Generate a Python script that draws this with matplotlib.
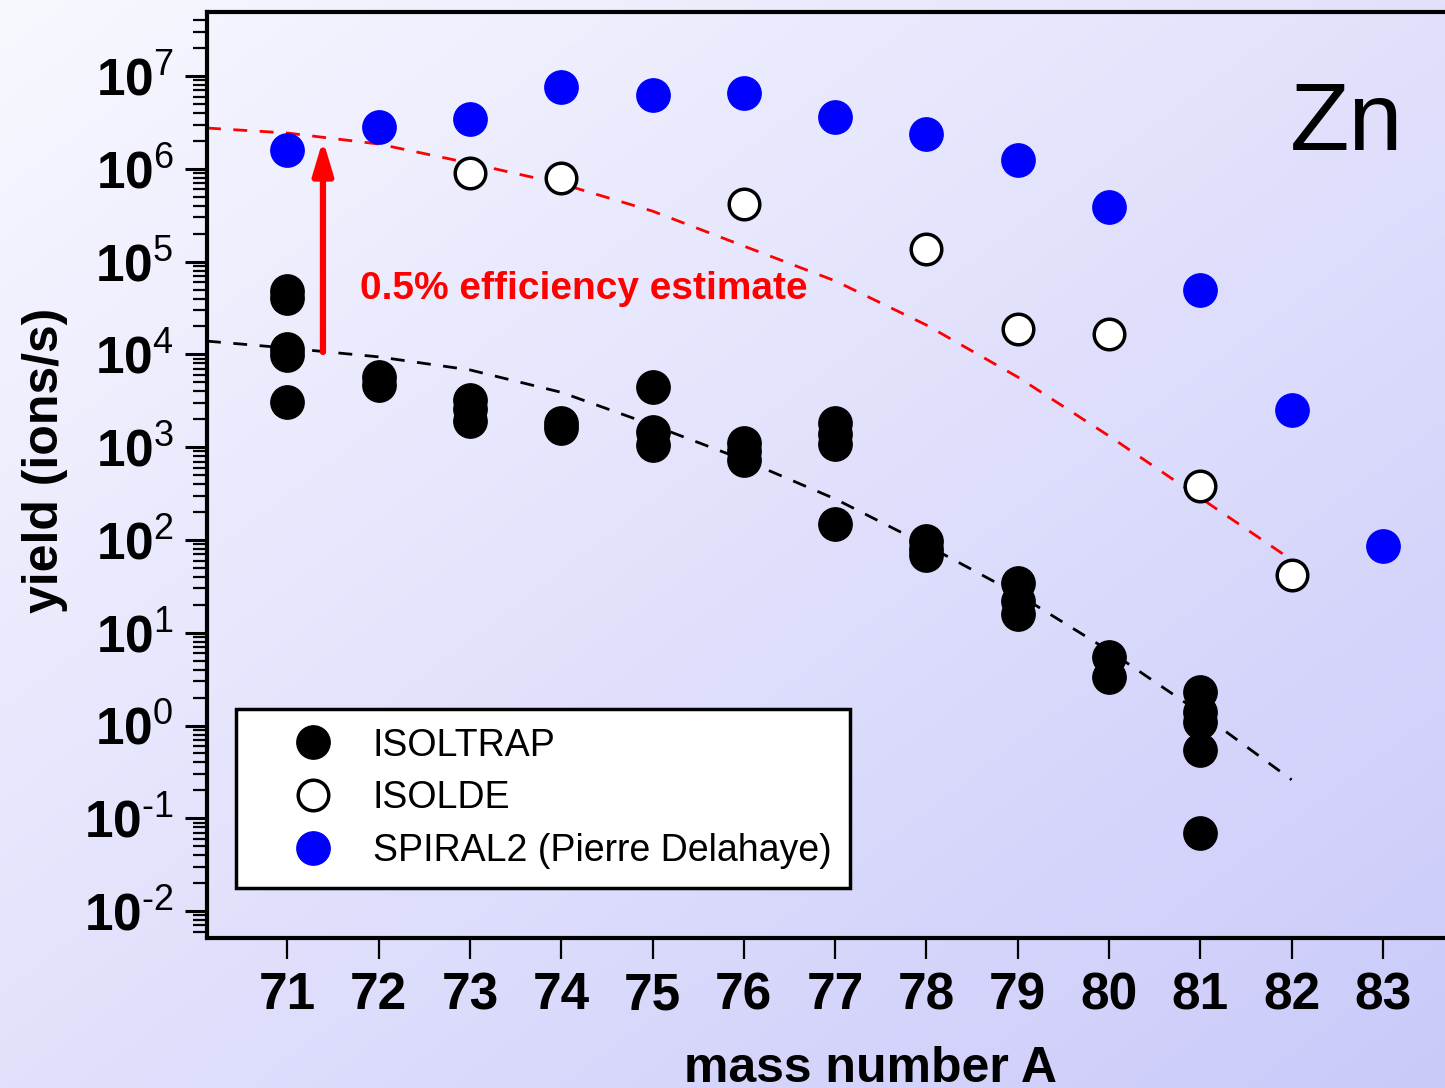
import numpy as np
import matplotlib
matplotlib.use('Agg')
import matplotlib.pyplot as plt
from matplotlib.ticker import LogLocator, FixedLocator, FuncFormatter, NullFormatter

plt.rcParams['font.family'] = ['Liberation Sans', 'DejaVu Sans']
plt.rcParams['mathtext.fontset'] = 'custom'
plt.rcParams['mathtext.rm'] = 'Liberation Sans'
plt.rcParams['mathtext.bf'] = 'Liberation Sans:bold'

# ISOLTRAP measured yields (several per mass number)
isoltrap_A = [71, 71, 71, 71, 71,
              72, 72,
              73, 73, 73,
              74, 74,
              75, 75, 75,
              76, 76, 76,
              77, 77, 77, 77,
              78, 78, 78,
              79, 79, 79,
              80, 80,
              81, 81, 81, 81, 81]
isoltrap_y = [4.8e4, 4.1e4, 1.15e4, 9.8e3, 3.1e3,
              5.7e3, 4.7e3,
              3.2e3, 2.6e3, 1.9e3,
              1.8e3, 1.6e3,
              4.4e3, 1.45e3, 1.05e3,
              1.1e3, 9.0e2, 7.2e2,
              1.8e3, 1.4e3, 1.07e3, 148,
              98, 80, 68,
              34, 22, 16,
              5.5, 3.3,
              2.3, 1.4, 1.1, 0.54, 0.069]

# ISOLDE tabulated yields
isolde_A = [73, 74, 76, 78, 79, 80, 81, 82]
isolde_y = [9.0e5, 7.9e5, 4.2e5, 1.38e5, 1.86e4, 1.66e4, 380, 42]

# SPIRAL2 estimate
spiral_A = [71, 72, 73, 74, 75, 76, 77, 78, 79, 80, 81, 82, 83]
spiral_y = [1.6e6, 2.8e6, 3.4e6, 7.6e6, 6.3e6, 6.6e6, 3.6e6, 2.4e6,
            1.24e6, 3.9e5, 5.0e4, 2.5e3, 87]

# dashed trend curves
fit_A = [70.12, 71, 72, 73, 74, 75, 76, 77, 78, 79, 80, 81, 82]
fit_isoltrap = [1.39e4, 1.17e4, 9.4e3, 6.8e3, 3.9e3, 1.73e3, 7.3e2,
                2.77e2, 88, 26, 6.4, 1.37, 0.26]
fit_efficiency = [2.75e6, 2.43e6, 1.85e6, 1.15e6, 6.9e5, 3.5e5, 1.47e5,
                  6.2e4, 2.07e4, 5.7e3, 1.32e3, 284, 61]

xticks = list(range(71, 84))
ydecades = list(range(-2, 8))

W, H = 1445, 1088
fig = plt.figure(figsize=(W / 100, H / 100), dpi=100)

# background gradient
bg = fig.add_axes([0, 0, 1, 1], zorder=-10)
gx, gy = np.meshgrid(np.linspace(0, 1, 300), np.linspace(0, 1, 300))
t = (gx + gy) / 2
c0 = np.array([248, 248, 255]) / 255
c1 = np.array([202, 202, 250]) / 255
img = c0[None, None, :] * (1 - t[..., None]) + c1[None, None, :] * t[..., None]
bg.imshow(img, aspect='auto', extent=[0, 1, 0, 1], origin='upper')
bg.axis('off')

ax = fig.add_axes([207 / W, (H - 938) / H, (W - 207) / W, (938 - 12) / H])
ax.set_facecolor('none')
ax.set_yscale('log')
ax.set_xlim(70.12, 83.68)
ax.set_ylim(10 ** -2.29, 10 ** 7.69)

ax.plot(fit_A, fit_isoltrap, color='black', lw=2.0, ls=(0, (5, 4.5)), zorder=2)
ax.plot(fit_A, fit_efficiency, color='#ff0000', lw=2.0, ls=(0, (5, 4.5)), zorder=2)

ms = 24
ax.plot(isoltrap_A, isoltrap_y, 'o', ms=ms, color='black', mec='black',
        label='ISOLTRAP', zorder=3)
ax.plot(isolde_A, isolde_y, 'o', ms=ms - 2, mfc='white', mec='black', mew=2.5,
        label='ISOLDE', zorder=3)
ax.plot(spiral_A, spiral_y, 'o', ms=ms, color='#0000ff', mec='#0000ff',
        label='SPIRAL2 (Pierre Delahaye)', zorder=3)

ax.annotate('', xy=(71.39, 2.05e6), xytext=(71.39, 1.06e4),
            arrowprops=dict(arrowstyle='-|>,head_length=1.0,head_width=0.3',
                            color='#ff0000', lw=4.5, shrinkA=0, shrinkB=0,
                            mutation_scale=20), zorder=4)
ax.text(71.80, 10 ** 4.71, '0.5% efficiency estimate', color='#ff0000',
        fontsize=28, fontweight='bold', ha='left', va='center')
ax.text(82.6, 10 ** 6.47, 'Zn', fontsize=70, ha='center', va='center')

for side in ['left', 'bottom', 'top']:
    ax.spines[side].set_linewidth(3)
ax.spines['right'].set_visible(False)

ax.set_xticks(xticks)
ax.set_xticklabels([str(v) for v in xticks])
ax.tick_params(axis='x', which='major', direction='out', length=15, width=1.6,
               pad=9, labelsize=37)
for lab in ax.get_xticklabels():
    lab.set_fontweight('bold')

ax.yaxis.set_major_locator(FixedLocator([10.0 ** k for k in ydecades]))
ax.yaxis.set_minor_locator(LogLocator(base=10, subs=np.arange(2, 10), numticks=20))
ax.yaxis.set_minor_formatter(NullFormatter())
ax.yaxis.set_major_formatter(FuncFormatter(
    lambda v, p: r'$\mathbf{10}^{\mathrm{%s}}$' % str(round(np.log10(v))).replace('-', '\u2010')))
ax.tick_params(axis='y', which='major', direction='out', length=16, width=2.2,
               pad=8, labelsize=37)
ax.tick_params(axis='y', which='minor', direction='out', length=10, width=1.6)

fig.text(45 / W, 1 - 460 / H, 'yield (ions/s)', rotation=90, fontsize=36,
         fontweight='bold', ha='center', va='center')
fig.text(871 / W, 1 - 1082 / H, 'mass number A', fontsize=36,
         fontweight='bold', ha='center', va='baseline')

leg = ax.legend(loc='lower left', bbox_to_anchor=((236 - 207) / 1238, (938 - 888) / 926),
                borderaxespad=0, fontsize=27, frameon=True, fancybox=False,
                framealpha=1, edgecolor='black', handletextpad=0.05,
                labelspacing=0.45, borderpad=0.5, handlelength=3.1,
                markerscale=1.0)
leg.get_frame().set_linewidth(2.5)

fig.savefig('out.png', dpi=100)
